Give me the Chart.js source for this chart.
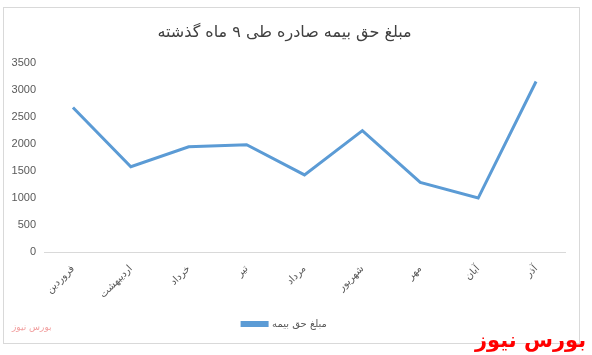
<!DOCTYPE html>
<html>
<head>
<meta charset="utf-8">
<script src="https://cdn.jsdelivr.net/npm/chart.js@4.4.1/dist/chart.umd.min.js"></script>
<style>
    html, body { margin: 0; padding: 0; background: #fff; }
    body { width: 592px; height: 355px; position: relative; overflow: hidden; }
    #frame {
        position: absolute; left: 3px; top: 7px; width: 575px; height: 335px;
        border: 1px solid #d9d9d9; background: #fff;
    }
    #frame canvas { display: block; }
    #brand {
        position: absolute; left: 475px; top: 328px; white-space: nowrap;
        font: bold 21px "DejaVu Sans", sans-serif; color: #ff0000; direction: rtl;
    }
    #logo {
        position: absolute; left: 12px; top: 322px; white-space: nowrap;
        font: 9px "DejaVu Sans", sans-serif; color: #f2a0a0; direction: rtl;
    }
</style>
</head>
<body>
<div id="frame"><canvas id="insuranceChart" width="575" height="335"></canvas></div>
<div id="logo">بورس نیوز</div>
<div id="brand">بورس نیوز</div>
<script>
// Months (Persian calendar) and values
const months = ['فروردین', 'اردیبهشت', 'خرداد', 'تیر', 'مرداد', 'شهریور', 'مهر', 'آبان', 'آذر'];
const premiumValues = [2680, 1580, 1950, 1990, 1430, 2250, 1290, 1000, 3160];
const yTicks = [0, 500, 1000, 1500, 2000, 2500, 3000, 3500];

const chartTitle = 'مبلغ حق بیمه صادره طی ۹ ماه گذشته';
const seriesLabel = 'مبلغ حق بیمه';

const textColor = '#595959';
const lineColor = '#5b9bd5';

const ctx = document.getElementById('insuranceChart');

new Chart(ctx, {
    type: 'line',
    data: {
        labels: months,
        datasets: [{
            label: seriesLabel,
            data: premiumValues,
            borderColor: lineColor,
            backgroundColor: lineColor,
            borderWidth: 3,
            pointRadius: 0,
            tension: 0,
            fill: false
        }]
    },
    options: {
        responsive: false,
        animation: false,
        layout: { padding: { left: 0, right: 14, top: 0, bottom: 4 } },
        plugins: {
            title: {
                display: true,
                text: chartTitle,
                color: '#404040',
                font: { family: '"DejaVu Sans", sans-serif', size: 16, weight: 'normal' },
                padding: { top: 15, bottom: 21 }
            },
            legend: {
                position: 'bottom',
                labels: {
                    boxWidth: 25,
                    boxHeight: 3,
                    color: textColor,
                    font: { family: '"DejaVu Sans", sans-serif', size: 10 },
                    padding: 8
                }
            },
            tooltip: { enabled: false }
        },
        scales: {
            x: {
                offset: true,
                grid: { display: false },
                border: { display: true, color: '#d9d9d9', width: 1 },
                ticks: {
                    color: textColor,
                    minRotation: 45,
                    maxRotation: 45,
                    autoSkip: false,
                    font: { family: '"DejaVu Sans", sans-serif', size: 10 }
                },
                afterFit: (scale) => { scale.height = 59; }
            },
            y: {
                min: 0,
                max: 3500,
                afterBuildTicks: (scale) => {
                    scale.ticks = yTicks.map(v => ({ value: v }));
                },
                grid: { display: false },
                border: { display: false },
                ticks: {
                    color: textColor,
                    padding: 0,
                    font: { family: '"Liberation Sans", sans-serif', size: 11 },
                    callback: (value) => String(value)
                },
                afterFit: (scale) => { scale.width = 40; }
            }
        }
    }
});
</script>
</body>
</html>
